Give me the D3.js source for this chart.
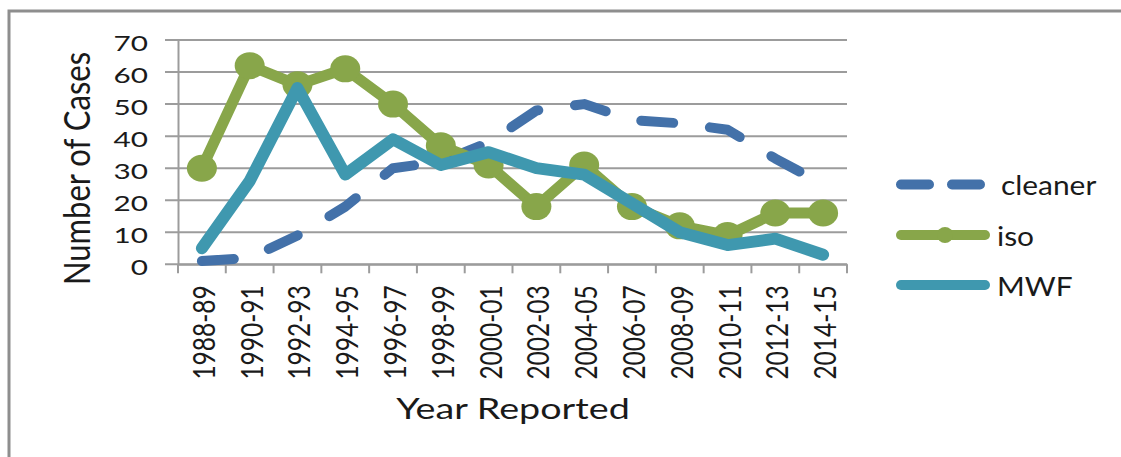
<!DOCTYPE html>
<html>
<head>
<meta charset="utf-8">
<script src="https://cdn.jsdelivr.net/npm/d3@7/dist/d3.min.js"></script>
<style>
  body { margin: 0; background: #fff; }
  svg { display: block; }
  text { font-family: Lato, "Open Sans", sans-serif; fill: #1a1a1a; }
</style>
</head>
<body>
<svg id="chart" width="1121" height="457"></svg>
<script>
var categories = ["1988-89", "1990-91", "1992-93", "1994-95", "1996-97", "1998-99", "2000-01",
                  "2002-03", "2004-05", "2006-07", "2008-09", "2010-11", "2012-13", "2014-15"];
var cleaner = [1, 2, 9, 18, 30, 32, 38, 48, 50, 45, 44, 42, 33, 25];
var iso = [30, 62, 56, 61, 50, 37, 31, 18, 31, 18, 12, 9, 16, 16];
var mwf = [5, 26, 55, 28, 39, 31, 35, 30, 28, 19, 10, 6, 8, 3];
var yTicks = [0, 10, 20, 30, 40, 50, 60, 70];
var seriesNames = ["cleaner", "iso", "MWF"];

var blue = "#4371a9", green = "#88a64a", teal = "#3f98af", grid = "#9c9c9c";

var svg = d3.select("#chart");
svg.append("rect").attr("width", 1121).attr("height", 457).attr("fill", "#fff");

// outer chart frame (only top and left edges are in view)
svg.append("path")
    .attr("d", "M9,457 L9,11 L1121,11")
    .attr("fill", "none")
    .attr("stroke", "#8e8e8e")
    .attr("stroke-width", 3);

var x = d3.scaleBand().domain(categories).range([178, 847]).padding(0);
var y = d3.scaleLinear().domain([0, 70]).range([264.3, 40]);
var bw = x.bandwidth();

// gridlines
svg.append("g")
    .selectAll("line")
    .data(yTicks)
    .enter().append("line")
      .attr("x1", 165)
      .attr("x2", x.range()[1])
      .attr("y1", function(d) { return y(d); })
      .attr("y2", function(d) { return y(d); })
      .attr("stroke", grid)
      .attr("stroke-width", 2);

// y axis
var yAxis = svg.append("g")
    .attr("transform", "translate(178,0)")
    .call(d3.axisLeft(y).tickValues(yTicks).tickSize(0).tickPadding(0));
yAxis.select(".domain").attr("stroke", grid).attr("stroke-width", 2);
yAxis.selectAll("text")
    .attr("x", 0)
    .attr("dy", null)
    .attr("dominant-baseline", "central")
    .attr("text-anchor", "end")
    .attr("font-size", 20.5)
    .attr("transform", "translate(-30,2) scale(1.45,1)")
    .style("fill", "#1a1a1a");

// x axis
var xAxis = svg.append("g")
    .attr("transform", "translate(0," + y(0) + ")")
    .call(d3.axisBottom(x).tickSize(0).tickPadding(0));
xAxis.select(".domain").attr("stroke", grid).attr("stroke-width", 2);
xAxis.selectAll("text")
    .attr("y", 0)
    .attr("dy", null)
    .attr("text-anchor", "end")
    .attr("font-size", 24.5)
    .attr("transform", "translate(13,21) rotate(-90) scale(1,1.25)")
    .style("fill", "#1a1a1a");

var bounds = categories.map(function(c) { return x(c); }).concat([x.range()[1]]);
svg.append("g")
    .selectAll("line")
    .data(bounds)
    .enter().append("line")
      .attr("x1", function(d) { return d; })
      .attr("x2", function(d) { return d; })
      .attr("y1", y(0))
      .attr("y2", y(0) + 9)
      .attr("stroke", grid)
      .attr("stroke-width", 2);

// axis titles
svg.append("text")
    .attr("text-anchor", "middle")
    .attr("font-size", 31)
    .attr("transform", "translate(90,168.5) rotate(-90) scale(1,1.18)")
    .text("Number of Cases");

svg.append("text")
    .attr("text-anchor", "middle")
    .attr("font-size", 29)
    .attr("transform", "translate(513,418.5) scale(1.3,1)")
    .text("Year Reported");

// series
function toPoints(vals) {
  return vals.map(function(v, i) { return {cat: categories[i], v: v}; });
}

var line = d3.line()
    .x(function(d) { return x(d.cat) + bw / 2; })
    .y(function(d) { return y(d.v); });

svg.append("path")
    .datum(toPoints(cleaner))
    .attr("d", line)
    .attr("fill", "none")
    .attr("stroke", blue)
    .attr("stroke-width", 10)
    .attr("stroke-linecap", "round")
    .attr("stroke-linejoin", "round")
    .attr("stroke-dasharray", "32,37");

svg.append("path")
    .datum(toPoints(iso))
    .attr("d", line)
    .attr("fill", "none")
    .attr("stroke", green)
    .attr("stroke-width", 11)
    .attr("stroke-linecap", "round")
    .attr("stroke-linejoin", "round");

svg.append("g")
    .selectAll("ellipse")
    .data(toPoints(iso))
    .enter().append("ellipse")
      .attr("cx", function(d) { return x(d.cat) + bw / 2; })
      .attr("cy", function(d) { return y(d.v); })
      .attr("rx", 15)
      .attr("ry", 13.5)
      .attr("fill", green);

svg.append("path")
    .datum(toPoints(mwf))
    .attr("d", line)
    .attr("fill", "none")
    .attr("stroke", teal)
    .attr("stroke-width", 12)
    .attr("stroke-linecap", "round")
    .attr("stroke-linejoin", "round");

// legend
var legendY = [184.5, 235, 285];
var legendColors = [blue, green, teal];
var legend = svg.append("g");

seriesNames.forEach(function(name, i) {
  var ly = legendY[i];
  var sample = legend.append("line")
      .attr("x1", 901).attr("x2", 985)
      .attr("y1", ly).attr("y2", ly)
      .attr("stroke", legendColors[i])
      .attr("stroke-width", 10)
      .attr("stroke-linecap", "round");
  if (name == "cleaner") sample.attr("x2", 980).attr("stroke-dasharray", "28,23");
  if (name == "iso") {
    legend.append("circle")
        .attr("cx", 945).attr("cy", ly).attr("r", 8)
        .attr("fill", legendColors[i]);
  }
  legend.append("text")
      .attr("font-size", 26)
      .attr("transform", "translate(" + (name == "cleaner" ? 1001 : 997) + "," + (ly + 10.5) + ") scale(1.15,1)")
      .text(name);
});
</script>
</body>
</html>
